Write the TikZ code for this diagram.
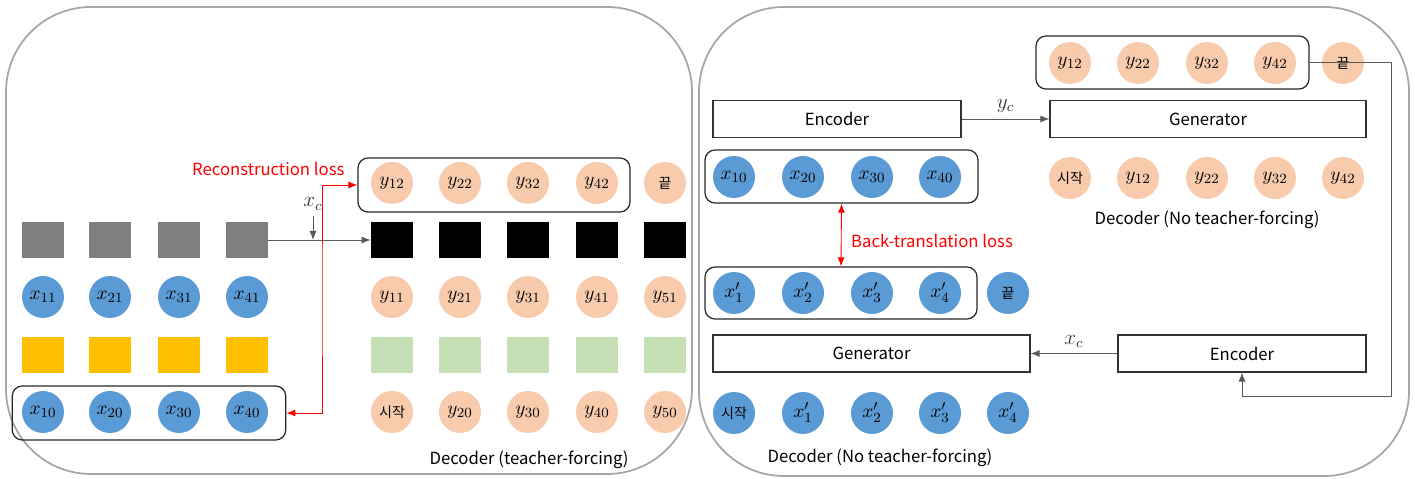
\documentclass[tikz,border=0pt]{standalone}
\usepackage{fontspec}
\setmainfont{Noto Sans CJK KR}
\usetikzlibrary{arrows.meta}
\definecolor{tokblue}{HTML}{5B9BD5}
\definecolor{tokpeach}{HTML}{F8CBAD}
\definecolor{cellgray}{HTML}{7F7F7F}
\definecolor{cellyellow}{HTML}{FFC000}
\definecolor{cellgreen}{HTML}{C5E0B4}
\definecolor{panelgray}{HTML}{A6A6A6}
\tikzset{
  tok/.style={circle, minimum size=8.4mm, inner sep=0pt, font=\fontsize{11}{13}\selectfont},
  xtok/.style={tok, fill=tokblue},
  ytok/.style={tok, fill=tokpeach},
  kor/.style={font=\fontsize{8}{10}\selectfont},
  cell/.style={minimum width=8.4mm, minimum height=7.2mm, inner sep=0pt},
  block/.style={draw=black!80, line width=0.7pt, minimum height=7.4mm, inner sep=0pt},
  group/.style={draw=black!85, line width=0.7pt, rounded corners=2mm, inner sep=0pt},
  panel/.style={draw=panelgray, line width=1pt, rounded corners=17mm},
  link/.style={draw=black!65, line width=0.5pt, -{Latex[length=1.8mm,width=1.4mm]}},
  loss/.style={draw=red, line width=0.5pt, {Latex[length=1.8mm,width=1.4mm]}-{Latex[length=1.8mm,width=1.4mm]}},
  ctx/.style={font=\fontsize{11.5}{13}\selectfont, text=black!80}
}
\begin{document}
\begin{tikzpicture}[x=0.2mm,y=-0.2mm,font=\fontsize{9.5}{11}\selectfont]
  \useasboundingbox (0,0) rectangle (1415,479);
  %Panels
  \draw[panel] (6,7) rectangle (692,474);
  \draw[panel] (699,7) rectangle (1409,476);

  %Left panel: encoder side
  \foreach \x [count=\i] in {43,110,179,247} {
    \node[cell, fill=cellgray] (gs\i) at (\x,240) {};
    \node[xtok] (xa\i) at (\x,297) {$x_{\i1}$};
    \node[cell, fill=cellyellow] (ys\i) at (\x,355) {};
    \node[xtok] (xb\i) at (\x,412) {$x_{\i0}$};
  }
  \node[group, minimum width=54.7mm, minimum height=10.8mm] (gBot) at (149,413) {};

  %Left panel: decoder side
  \foreach \x [count=\i] in {392,460,528,597} \node[ytok] (yt\i) at (\x,183) {$y_{\i2}$};
  \node[ytok,kor] (ytend) at (665,183) {끝};
  \node[group, minimum width=54.4mm, minimum height=10.8mm] (gTop) at (494,185) {};
  \foreach \x [count=\i] in {392,460,528,597,665} {
    \node[cell, fill=black] (bs\i) at (\x,240) {};
    \node[ytok] (ya\i) at (\x,297) {$y_{\i1}$};
    \node[cell, fill=cellgreen] (gr\i) at (\x,355) {};
  }
  \node[ytok,kor] (ybstart) at (392,412) {시작};
  \foreach \x [count=\i from 2] in {460,528,597,665} \node[ytok] (yb\i) at (\x,412) {$y_{\i0}$};
  \node (decA) at (529,460) {Decoder (teacher-forcing)};

  %Left panel: connectors
  \draw[link] (gs4.east) -- (bs1.west);
  \node[ctx] (xcA) at (313,204) {$x_c$};
  \coordinate (xcAin) at (313,240);
  \draw[link] (xcA) -- (xcAin);
  \node[red, anchor=west] (recl) at (186,169) {Reconstruction loss};
  \coordinate (recx) at (322,300);
  \draw[loss] (gTop.west) -| (recx) |- (gBot.east);

  %Right panel: blocks
  \node[block, minimum width=49.6mm] (encA) at (837,119) {Encoder};
  \node[block, minimum width=63.2mm] (genA) at (1208,119) {Generator};
  \node[block, minimum width=63.4mm] (genB) at (871.5,353.5) {Generator};
  \node[block, minimum width=49.6mm] (encB) at (1242,353.5) {Encoder};

  %Right panel: tokens
  \foreach \x [count=\i] in {734,803,872,940} {
    \node[xtok] (xr\i) at (\x,177) {$x_{\i0}$};
    \node[xtok] (xp\i) at (\x,293) {$x'_{\i}$};
  }
  \node[xtok,kor] (xpend) at (1008,293) {끝};
  \node[group, minimum width=54.6mm, minimum height=10.6mm] (gX) at (841.5,176.5) {};
  \node[group, minimum width=54.4mm, minimum height=10.4mm] (gXp) at (841,293) {};
  \node[xtok,kor] (xbstart) at (734,413) {시작};
  \foreach \x [count=\i] in {803,872,940,1008} \node[xtok] (xq\i) at (\x,413) {$x'_{\i}$};
  \node (decC) at (880,458) {Decoder (No teacher-forcing)};

  \foreach \x [count=\i] in {1070,1138,1207,1275} \node[ytok] (yr\i) at (\x,63) {$y_{\i2}$};
  \node[ytok,kor] (yrend) at (1343,63) {끝};
  \node[group, minimum width=54.6mm, minimum height=10.6mm] (gY) at (1172.5,62.5) {};
  \node[ytok,kor] (ysstart) at (1070,178) {시작};
  \foreach \x [count=\i] in {1138,1207,1275,1343} \node[ytok] (ys\i) at (\x,178) {$y_{\i2}$};
  \node (decB) at (1207,220) {Decoder (No teacher-forcing)};

  %Right panel: connectors
  \draw[link] (encA.east) -- node[ctx, above=0pt] (ycA) {$y_c$} (genA.west);
  \draw[link] (encB.west) -- node[ctx, above=0pt] (xcB) {$x_c$} (genB.east);
  \draw[loss] (gX.south) -- (gXp.north);
  \node[red, anchor=west] (btl) at (845,241) {Back-translation loss};
  \coordinate (fbk) at (1391,396);
  \draw[link] (gY.east) -| (fbk) -| (encB.south);
\end{tikzpicture}
\end{document}
